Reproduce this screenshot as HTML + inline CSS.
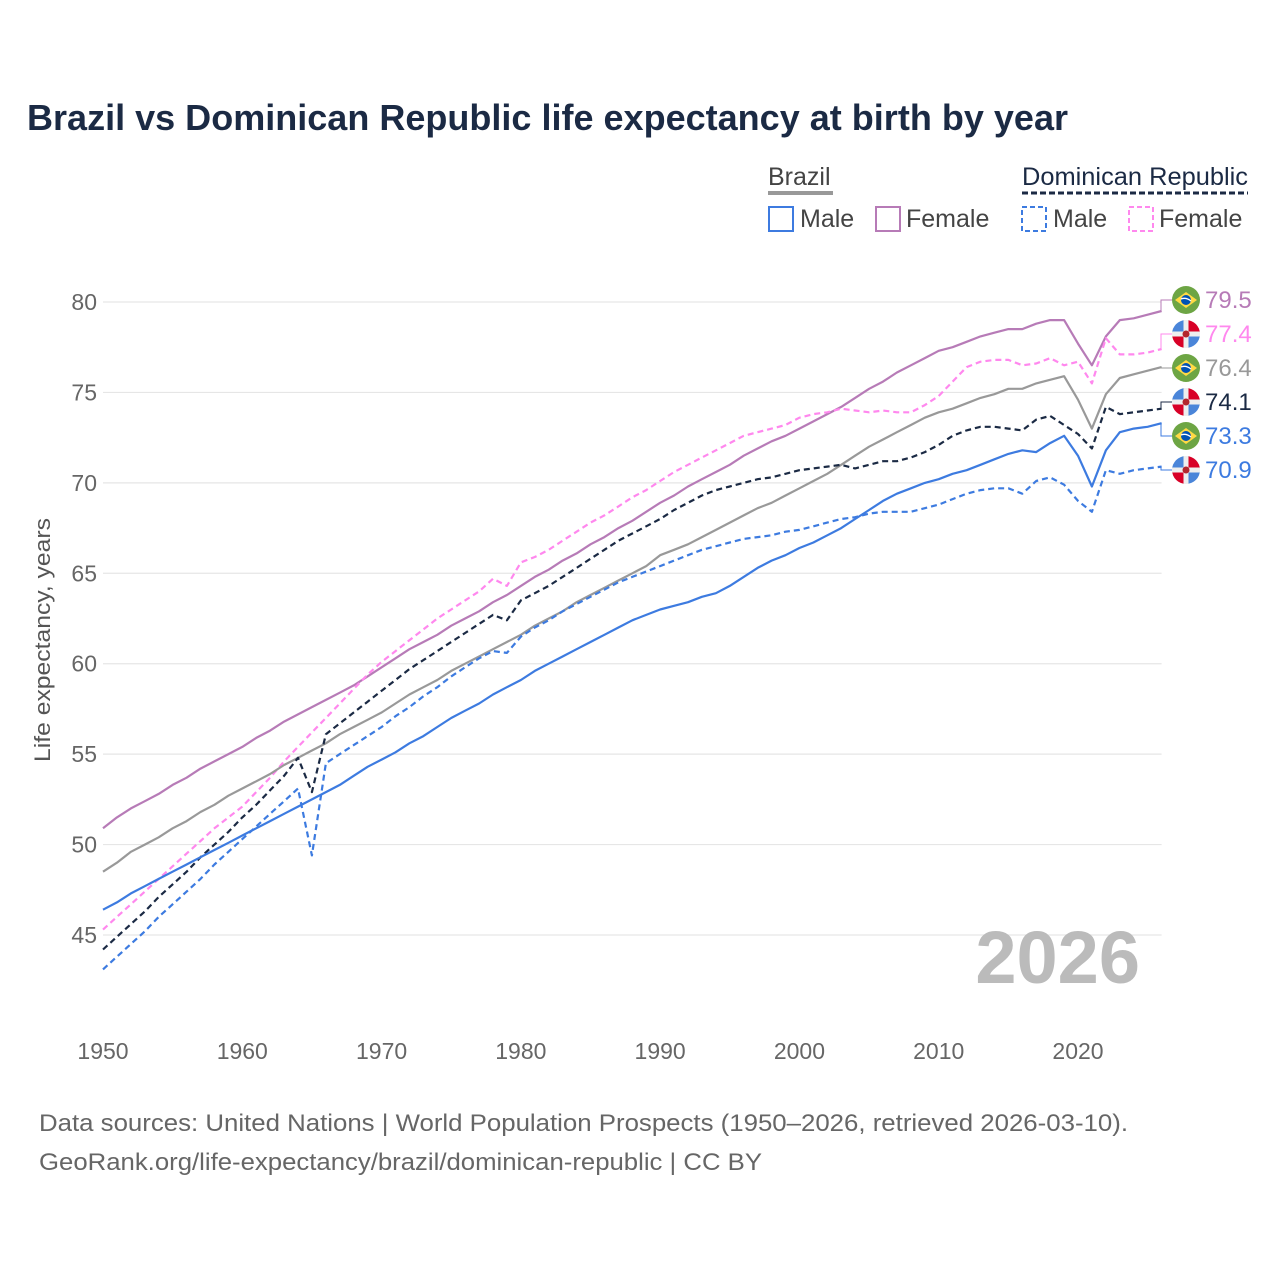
<!DOCTYPE html>
<html><head><meta charset="utf-8"><style>
body{margin:0;background:#fff;font-family:"Liberation Sans",sans-serif}
svg text{font-family:"Liberation Sans",sans-serif}
</style></head><body>
<svg id="chart" width="1280" height="1280" viewBox="0 0 1280 1280" xmlns="http://www.w3.org/2000/svg">
<rect width="1280" height="1280" fill="#fff"/>
<text x="27" y="130" font-size="36" font-weight="bold" fill="#1b2a44" textLength="1041" lengthAdjust="spacingAndGlyphs">Brazil vs Dominican Republic life expectancy at birth by year</text>
<g font-size="25">
 <text x="768" y="185" fill="#444">Brazil</text>
 <line x1="768" y1="193" x2="833" y2="193" stroke="#999" stroke-width="4"/>
 <text x="1022" y="185" fill="#1b2a44" textLength="226" lengthAdjust="spacingAndGlyphs">Dominican Republic</text>
 <line x1="1022" y1="193" x2="1248" y2="193" stroke="#1b2a44" stroke-width="3" stroke-dasharray="6 3"/>
 <g><rect x="769" y="207" width="24" height="24" fill="none" stroke="#3d7be0" stroke-width="2"/><text x="800" y="227" fill="#444">Male</text></g>
 <g><rect x="876" y="207" width="24" height="24" fill="none" stroke="#b77bb7" stroke-width="2"/><text x="906" y="227" fill="#444">Female</text></g>
 <g><rect x="1022" y="207" width="24" height="24" fill="none" stroke="#3d7be0" stroke-width="2" stroke-dasharray="5 3"/><text x="1053" y="227" fill="#444">Male</text></g>
 <g><rect x="1129" y="207" width="24" height="24" fill="none" stroke="#ff88ee" stroke-width="2" stroke-dasharray="5 3"/><text x="1159" y="227" fill="#444">Female</text></g>
</g>
<g id="grid"></g>
<g id="axes"></g>
<text x="1140" y="983" font-size="74" font-weight="bold" fill="#bbb" text-anchor="end">2026</text>
<text transform="translate(50,640) rotate(-90)" font-size="22" fill="#555" text-anchor="middle" textLength="244" lengthAdjust="spacingAndGlyphs">Life expectancy, years</text>
<g id="series"></g>
<g id="labels"></g>
<text x="39" y="1131" font-size="24" fill="#666" textLength="1089" lengthAdjust="spacingAndGlyphs">Data sources: United Nations | World Population Prospects (1950–2026, retrieved 2026-03-10).</text>
<text x="39" y="1170" font-size="24" fill="#666" textLength="723" lengthAdjust="spacingAndGlyphs">GeoRank.org/life-expectancy/brazil/dominican-republic | CC BY</text>
</svg>
<script>
const startYear = 1950;
const yTicks = [45,50,55,60,65,70,75,80];
const xTicks = [1950,1960,1970,1980,1990,2000,2010,2020];
const brazilFemale = [50.9,51.5,52.0,52.4,52.8,53.3,53.7,54.2,54.6,55.0,55.4,55.9,56.3,56.8,57.2,57.6,58.0,58.4,58.8,59.3,59.8,60.3,60.8,61.2,61.6,62.1,62.5,62.9,63.4,63.8,64.3,64.8,65.2,65.7,66.1,66.6,67.0,67.5,67.9,68.4,68.9,69.3,69.8,70.2,70.6,71.0,71.5,71.9,72.3,72.6,73.0,73.4,73.8,74.2,74.7,75.2,75.6,76.1,76.5,76.9,77.3,77.5,77.8,78.1,78.3,78.5,78.5,78.8,79.0,79.0,77.7,76.5,78.1,79.0,79.1,79.3,79.5];
const brazilTotal = [48.5,49.0,49.6,50.0,50.4,50.9,51.3,51.8,52.2,52.7,53.1,53.5,53.9,54.4,54.8,55.2,55.6,56.1,56.5,56.9,57.3,57.8,58.3,58.7,59.1,59.6,60.0,60.4,60.8,61.2,61.6,62.1,62.5,62.9,63.4,63.8,64.2,64.6,65.0,65.4,66.0,66.3,66.6,67.0,67.4,67.8,68.2,68.6,68.9,69.3,69.7,70.1,70.5,71.0,71.5,72.0,72.4,72.8,73.2,73.6,73.9,74.1,74.4,74.7,74.9,75.2,75.2,75.5,75.7,75.9,74.6,73.0,74.9,75.8,76.0,76.2,76.4];
const brazilMale = [46.4,46.8,47.3,47.7,48.1,48.5,48.9,49.3,49.7,50.1,50.5,50.9,51.3,51.7,52.1,52.5,52.9,53.3,53.8,54.3,54.7,55.1,55.6,56.0,56.5,57.0,57.4,57.8,58.3,58.7,59.1,59.6,60.0,60.4,60.8,61.2,61.6,62.0,62.4,62.7,63.0,63.2,63.4,63.7,63.9,64.3,64.8,65.3,65.7,66.0,66.4,66.7,67.1,67.5,68.0,68.5,69.0,69.4,69.7,70.0,70.2,70.5,70.7,71.0,71.3,71.6,71.8,71.7,72.2,72.6,71.5,69.8,71.8,72.8,73.0,73.1,73.3];
const drFemale = [45.3,46.0,46.7,47.4,48.1,48.8,49.5,50.2,50.9,51.5,52.1,52.9,53.7,54.6,55.4,56.2,57.0,57.8,58.6,59.4,60.1,60.7,61.3,61.9,62.5,63.0,63.5,64.0,64.7,64.3,65.6,65.9,66.3,66.8,67.3,67.8,68.2,68.7,69.2,69.6,70.1,70.6,71.0,71.4,71.8,72.2,72.6,72.8,73.0,73.2,73.6,73.8,73.9,74.1,74.0,73.9,74.0,73.9,73.9,74.3,74.8,75.6,76.4,76.7,76.8,76.8,76.5,76.6,76.9,76.5,76.7,75.5,78.0,77.1,77.1,77.2,77.4];
const drTotal = [44.2,44.9,45.6,46.3,47.1,47.8,48.5,49.3,50.0,50.7,51.5,52.2,53.0,53.8,54.8,52.9,56.1,56.7,57.3,57.9,58.5,59.1,59.7,60.2,60.7,61.2,61.7,62.2,62.7,62.4,63.5,63.9,64.3,64.8,65.3,65.8,66.3,66.8,67.2,67.6,68.0,68.5,68.9,69.3,69.6,69.8,70.0,70.2,70.3,70.5,70.7,70.8,70.9,71.0,70.8,71.0,71.2,71.2,71.4,71.7,72.1,72.6,72.9,73.1,73.1,73.0,72.9,73.5,73.7,73.2,72.7,71.9,74.2,73.8,73.9,74.0,74.1];
const drMale = [43.1,43.8,44.5,45.2,46.0,46.7,47.4,48.1,48.9,49.6,50.3,51.0,51.7,52.4,53.1,49.4,54.5,55.0,55.5,56.0,56.5,57.1,57.6,58.2,58.7,59.3,59.8,60.3,60.7,60.6,61.5,62.0,62.4,62.9,63.3,63.7,64.1,64.5,64.8,65.1,65.4,65.7,66.0,66.3,66.5,66.7,66.9,67.0,67.1,67.3,67.4,67.6,67.8,68.0,68.1,68.3,68.4,68.4,68.4,68.6,68.8,69.1,69.4,69.6,69.7,69.7,69.4,70.1,70.3,69.9,69.0,68.4,70.7,70.5,70.7,70.8,70.9];

const NS='http://www.w3.org/2000/svg';
const X0=103, X1=1161.6, Y80=302, Y45=935;
const xs = y => X0 + (y-1950)*(1078-103)/70;
const ys = v => Y80 + (80-v)*(Y45-Y80)/35;
function mk(tag, parent){const e=document.createElementNS(NS,tag);parent.appendChild(e);return e;}

const grid=document.getElementById('grid'), axes=document.getElementById('axes');
yTicks.forEach(t=>{
  const l=mk('line',grid);
  
  
  l.setAttribute('x1',X0);l.setAttribute('x2',X1);l.setAttribute('y1',ys(t));l.setAttribute('y2',ys(t));
  l.setAttribute('stroke','#e6e6e6');l.setAttribute('stroke-width','1.2');
  const tx=mk('text',axes);
  
  
  tx.setAttribute('x',97);tx.setAttribute('y',ys(t)+8);tx.setAttribute('text-anchor','end');
  tx.setAttribute('font-size','23');tx.setAttribute('fill','#666');tx.textContent=t;
});
xTicks.forEach(t=>{
  const tx=mk('text',axes);
  
  
  tx.setAttribute('x',xs(t));tx.setAttribute('y',1059);tx.setAttribute('text-anchor','middle');
  tx.setAttribute('font-size','23');tx.setAttribute('fill','#666');tx.textContent=t;
});

const seriesG=document.getElementById('series'), labelsG=document.getElementById('labels');
const defs=[
 {name:'brazil-female',data:brazilFemale,color:'#b77bb7',dash:null,flag:'br',ly:300},
 {name:'dr-female',data:drFemale,color:'#ff88ee',dash:'6 4',flag:'dr',ly:334},
 {name:'brazil-total',data:brazilTotal,color:'#999999',dash:null,flag:'br',ly:368},
 {name:'dr-total',data:drTotal,color:'#1b2a44',dash:'6 4',flag:'dr',ly:402},
 {name:'brazil-male',data:brazilMale,color:'#3d7be0',dash:null,flag:'br',ly:436},
 {name:'dr-male',data:drMale,color:'#3d7be0',dash:'6 4',flag:'dr',ly:470}
];
function flag(kind,cx,cy){
  const g=mk('g',labelsG);
  
  
  const r=14;
  if(kind==='br'){
    const c=mk('circle',g);c.setAttribute('cx',cx);c.setAttribute('cy',cy);c.setAttribute('r',r);c.setAttribute('fill','#6da544');
    const d=mk('polygon',g);d.setAttribute('points',`${cx-11},${cy} ${cx},${cy-8} ${cx+11},${cy} ${cx},${cy+8}`);d.setAttribute('fill','#ffda44');
    const b=mk('circle',g);b.setAttribute('cx',cx);b.setAttribute('cy',cy);b.setAttribute('r',5);b.setAttribute('fill','#0052b4');
    const s=mk('path',g);s.setAttribute('d',`M${cx-5},${cy-1} Q${cx},${cy-3} ${cx+5},${cy+1}`);s.setAttribute('stroke','#fff');s.setAttribute('stroke-width','1.3');s.setAttribute('fill','none');
  } else {
    const q=[['#4a85d9',-1,-1],['#d80027',1,-1],['#d80027',-1,1],['#4a85d9',1,1]];
    q.forEach(([col,sx,sy])=>{
      const p=mk('path',g);
      p.setAttribute('d',`M${cx},${cy} L${cx+sx*r},${cy} A${r},${r} 0 0 ${sx*sy>0?1:0} ${cx},${cy+sy*r} Z`);
      p.setAttribute('fill',col);
    });
    const h=mk('rect',g);h.setAttribute('x',cx-r);h.setAttribute('y',cy-2.5);h.setAttribute('width',2*r);h.setAttribute('height',5);h.setAttribute('fill','#eee');
    const v=mk('rect',g);v.setAttribute('x',cx-2.5);v.setAttribute('y',cy-r);v.setAttribute('width',5);v.setAttribute('height',2*r);v.setAttribute('fill','#eee');
    const c=mk('circle',g);c.setAttribute('cx',cx);c.setAttribute('cy',cy);c.setAttribute('r',3.5);c.setAttribute('fill','#b3262e');
  }
}
defs.forEach(s=>{
  const p=mk('path',seriesG);
  
  
  p.setAttribute('d',s.data.map((v,i)=>(i?'L':'M')+xs(startYear+i).toFixed(1)+','+ys(v).toFixed(1)).join(''));
  p.setAttribute('fill','none');p.setAttribute('stroke',s.color);p.setAttribute('stroke-width','2.2');
  p.setAttribute('stroke-linejoin','round');
  if(s.dash)p.setAttribute('stroke-dasharray',s.dash);
  const last=s.data[s.data.length-1];
  const ex=xs(startYear+s.data.length-1), ey=ys(last);
  const c=mk('path',labelsG);
  
  
  c.setAttribute('d',`M${ex},${ey} L1161,${ey} L1161,${s.ly} L1172,${s.ly}`);
  c.setAttribute('stroke',s.color);c.setAttribute('fill','none');c.setAttribute('stroke-width','1');
  flag(s.flag,1186,s.ly);
  const t=mk('text',labelsG);
  
  
  t.setAttribute('x',1205);t.setAttribute('y',s.ly+8);t.setAttribute('font-size','24');t.setAttribute('fill',s.color);
  t.textContent=last.toFixed(1);
});
</script>
</body></html>
